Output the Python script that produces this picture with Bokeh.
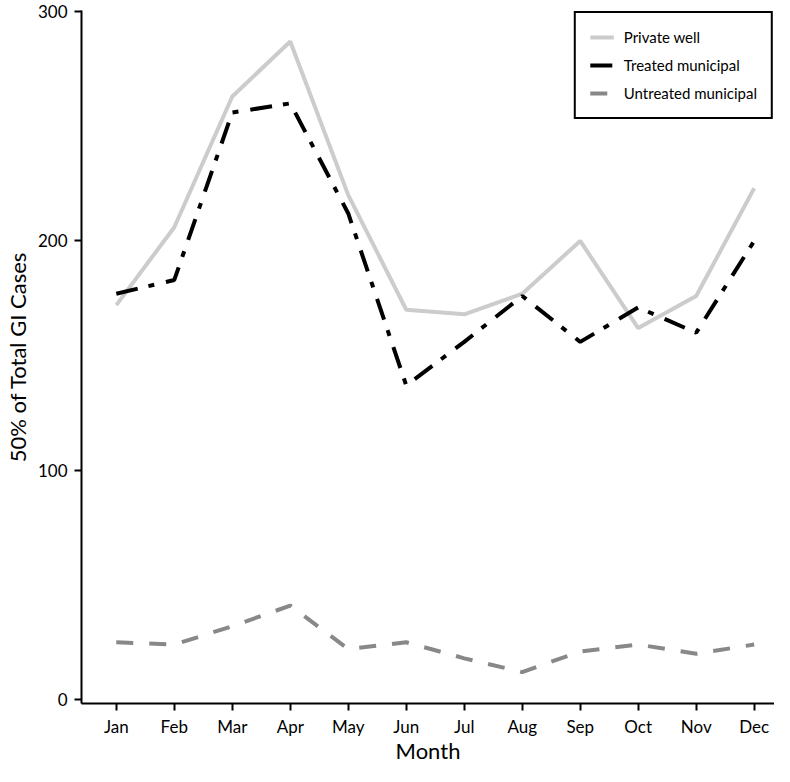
from bokeh.plotting import figure
from bokeh.models import FixedTicker, Legend, LegendItem, Range1d
from bokeh.embed import file_html
from bokeh.resources import INLINE

months = ["Jan", "Feb", "Mar", "Apr", "May", "Jun", "Jul", "Aug", "Sep", "Oct", "Nov", "Dec"]
private_well = [172, 206, 263, 287, 220, 170, 168, 177, 200, 162, 176, 223]
treated_municipal = [177, 183, 256, 260, 212, 137, 156, 176, 156, 171, 160, 200]
untreated_municipal = [25, 24, 32, 41, 22, 25, 18, 12, 21, 24, 20, 24]
y_ticks = [0, 100, 200, 300]

x = list(range(len(months)))
FONT = "Lato"

p = figure(width=774, height=766, output_backend="svg", toolbar_location=None,
           x_range=Range1d(-0.6, 11.35), y_range=Range1d(-1.7, 300.5),
           min_border_top=10, min_border_right=0, min_border_left=0, min_border_bottom=0)
p.outline_line_color = None
p.xgrid.visible = False
p.ygrid.visible = False
p.background_fill_color = "white"
p.border_fill_color = "white"

r1 = p.line(x, private_well, line_color="#cccccc", line_width=4)
r2 = p.line(x, treated_municipal, line_color="black", line_width=4, line_dash="22 11 6 12")
r3 = p.line(x, untreated_municipal, line_color="#888888", line_width=4, line_dash="17 16")

for ax in (p.xaxis[0], p.yaxis[0]):
    ax.axis_line_width = 2
    ax.axis_line_color = "black"
    ax.major_tick_line_width = 2
    ax.major_tick_line_color = "black"
    ax.major_tick_out = 7
    ax.major_tick_in = 0
    ax.minor_tick_out = 0
    ax.minor_tick_in = 0
    ax.major_label_text_font = FONT
    ax.major_label_text_font_size = "17px"
    ax.major_label_text_color = "black"
    ax.axis_label_text_font = FONT
    ax.axis_label_text_font_style = "normal"
    ax.axis_label_text_font_size = "22px"
    ax.axis_label_text_color = "black"

p.xaxis.ticker = FixedTicker(ticks=x)
p.xaxis.major_label_overrides = {i: m for i, m in zip(x, months)}
p.xaxis.axis_label = "Month"
p.xaxis.major_label_standoff = 5
p.xaxis.axis_label_standoff = -3

p.yaxis.ticker = FixedTicker(ticks=y_ticks)
p.yaxis.axis_label = "50% of Total GI Cases"
p.yaxis.major_label_standoff = 7
p.yaxis.axis_label_standoff = 4

legend = Legend(items=[
    LegendItem(label="Private well", renderers=[r1]),
    LegendItem(label="Treated municipal", renderers=[r2]),
    LegendItem(label="Untreated municipal", renderers=[r3]),
], location="top_right")
legend.border_line_color = "black"
legend.border_line_alpha = 1.0
legend.border_line_width = 2
legend.background_fill_color = "white"
legend.background_fill_alpha = 1
legend.label_text_font = FONT
legend.label_text_font_size = "15px"
legend.label_text_color = "black"
legend.glyph_width = 24
legend.glyph_height = 20
legend.label_height = 20
legend.spacing = 8
legend.padding = 14
legend.margin = 1
legend.label_standoff = 10
p.add_layout(legend)

open("out.html", "w").write(file_html(p, INLINE))
